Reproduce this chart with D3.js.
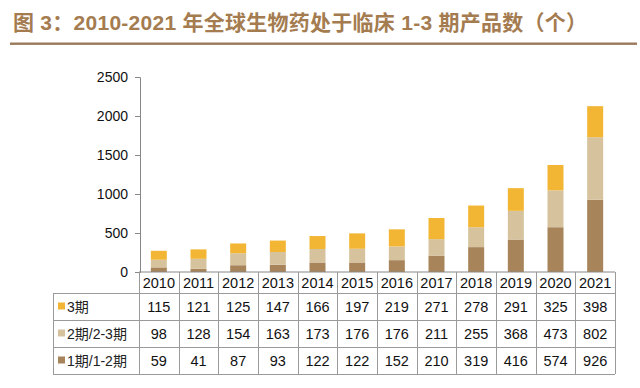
<!DOCTYPE html>
<html><head><meta charset="utf-8">
<script src="https://cdn.jsdelivr.net/npm/d3@7"></script>
<style>body{margin:0;background:#fff}svg{display:block}</style>
</head><body>
<script>
const years = ["2010","2011","2012","2013","2014","2015","2016","2017","2018","2019","2020","2021"];
const phase12 = [59,41,87,93,122,122,152,210,319,416,574,926];
const phase23 = [98,128,154,163,173,176,176,211,255,368,473,802];
const phase3 = [115,121,125,147,166,197,219,271,278,291,325,398];
const seriesNames = ["3期","2期/2-3期","1期/1-2期"];
const seriesColors = ["#F2B634","#D6C39D","#A8845A"];
const yTicks = [0,500,1000,1500,2000,2500];
const title = "图 3：2010-2021 年全球生物药处于临床 1-3 期产品数（个）";

const W=640,H=388;
const font = "'Liberation Sans', Arial, 'Noto Sans CJK SC', sans-serif";
const svg = d3.select("body").append("svg").attr("width",W).attr("height",H)
  .style("font-family",font);

// title
const tt = svg.append("text").attr("x",13).attr("y",30).text(title)
  .attr("font-size",21).attr("font-weight","bold").attr("fill","#A47C50");
const tw = tt.node().getComputedTextLength();
if (tw < 574) tt.attr("textLength",574).attr("lengthAdjust","spacing");
svg.append("rect").attr("x",10).attr("y",42.5).attr("width",627).attr("height",2.4).attr("fill","#9A7A5A");

const left=139, right=615, y0=272, yTop=77;
const x = d3.scaleBand().domain(years).range([left,right]).paddingInner(0).paddingOuter(0);
const y = d3.scaleLinear().domain([0,2500]).range([y0,yTop]);

const data = years.map((yr,i)=>({year:yr, p12:phase12[i], p23:phase23[i], p3:phase3[i]}));
const stack = d3.stack().keys(["p12","p23","p3"])(data);
const colorByKey = {p12:seriesColors[2], p23:seriesColors[1], p3:seriesColors[0]};
const bw = 16;
svg.append("g").selectAll("g").data(stack).join("g").attr("fill",d=>colorByKey[d.key])
  .selectAll("rect").data(d=>d).join("rect")
  .attr("x",d=>x(d.data.year)+x.bandwidth()/2-bw/2)
  .attr("width",bw)
  .attr("y",d=>y(d[1]))
  .attr("height",d=>y(d[0])-y(d[1]));

// y axis
const yAxis = d3.axisLeft(y).tickValues(yTicks).tickSize(5).tickPadding(7).tickFormat(d3.format("d"));
const ga = svg.append("g").attr("transform",`translate(${left+1},0)`).call(yAxis);
ga.select(".domain").attr("stroke","#888");
ga.selectAll(".tick line").attr("stroke","#888");
ga.selectAll("text").attr("font-size",14).attr("fill","#111").style("font-family",font);

// table
const grid = "#9a9a9a";
const tLeft=53, hdrBottom=293, rowH=27;
const rowTops=[293,320,347], tBottom=374;
const tg = svg.append("g");
tg.append("line").attr("x1",left).attr("x2",right).attr("y1",y0).attr("y2",y0).attr("stroke","#888");
[hdrBottom,320,347,tBottom].forEach(yy=>{
  tg.append("line").attr("x1",tLeft).attr("x2",right).attr("y1",yy+0.5).attr("y2",yy+0.5).attr("stroke",grid);
});
tg.append("line").attr("x1",tLeft+0.5).attr("x2",tLeft+0.5).attr("y1",hdrBottom).attr("y2",tBottom).attr("stroke",grid);
years.forEach(yr=>{
  const xx = Math.round(x(yr))+0.5;
  tg.append("line").attr("x1",xx).attr("x2",xx).attr("y1",y0).attr("y2",tBottom).attr("stroke",grid);
});
tg.append("line").attr("x1",right+0.5).attr("x2",right+0.5).attr("y1",y0).attr("y2",tBottom).attr("stroke",grid);

tg.selectAll("text.yr").data(years).join("text").attr("class","yr")
  .attr("x",d=>x(d)+x.bandwidth()/2).attr("y",288).attr("text-anchor","middle")
  .attr("font-size",14.5).attr("fill","#111").text(d=>d);

const rows = [phase3, phase23, phase12];
rows.forEach((vals,ri)=>{
  const cy = rowTops[ri]+rowH/2;
  tg.append("rect").attr("x",58).attr("y",cy-4).attr("width",7).attr("height",7).attr("fill",seriesColors[ri]);
  tg.append("text").attr("x",67).attr("y",cy+5).attr("font-size",14).attr("fill","#222").text(seriesNames[ri]);
  tg.selectAll(null).data(vals).join("text")
    .attr("x",(d,i)=>x(years[i])+x.bandwidth()/2).attr("y",cy+5.5).attr("text-anchor","middle")
    .attr("font-size",14.5).attr("fill","#111").text(d=>d);
});
</script>
</body></html>
